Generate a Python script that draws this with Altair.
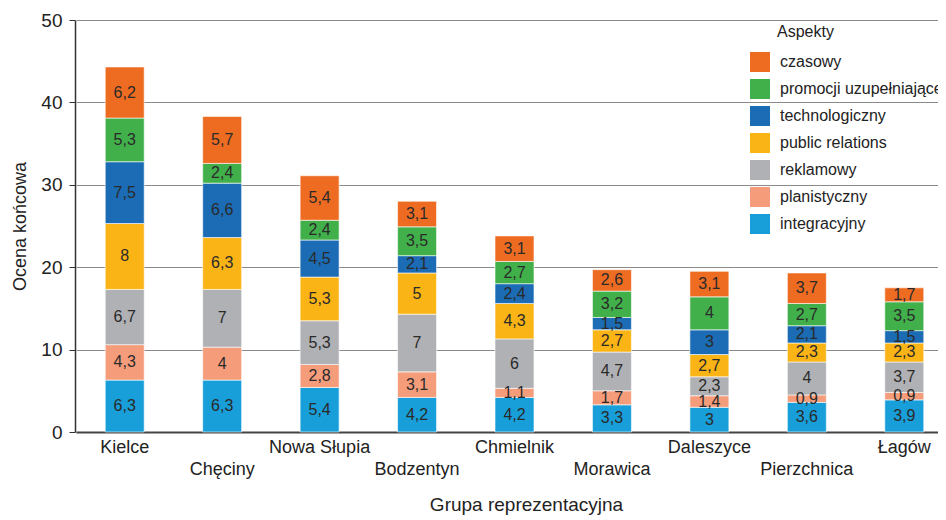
import altair as alt
import pandas as pd

gminy = ["Kielce", "Chęciny", "Nowa Słupia", "Bodzentyn", "Chmielnik",
         "Morawica", "Daleszyce", "Pierzchnica", "Łagów"]

# series from bottom of stack to top
integracyjny = [6.3, 6.3, 5.4, 4.2, 4.2, 3.3, 3.0, 3.6, 3.9]
planistyczny = [4.3, 4.0, 2.8, 3.1, 1.1, 1.7, 1.4, 0.9, 0.9]
reklamowy = [6.7, 7.0, 5.3, 7.0, 6.0, 4.7, 2.3, 4.0, 3.7]
public_relations = [8.0, 6.3, 5.3, 5.0, 4.3, 2.7, 2.7, 2.3, 2.3]
technologiczny = [7.5, 6.6, 4.5, 2.1, 2.4, 1.5, 3.0, 2.1, 1.5]
promocji = [5.3, 2.4, 2.4, 3.5, 2.7, 3.2, 4.0, 2.7, 3.5]
czasowy = [6.2, 5.7, 5.4, 3.1, 3.1, 2.6, 3.1, 3.7, 1.7]

series_names = ["integracyjny", "planistyczny", "reklamowy", "public relations",
                "technologiczny", "promocji uzupełniające", "czasowy"]
series_values = [integracyjny, planistyczny, reklamowy, public_relations,
                 technologiczny, promocji, czasowy]
series_colors = ["#189ED9", "#F59C7B", "#B0B1B4", "#FBB416",
                 "#1B6CB5", "#41B04A", "#EE6C22"]

legend_order = list(reversed(series_names))
legend_colors = list(reversed(series_colors))

rows = []
for i, g in enumerate(gminy):
    for k, (name, vals) in enumerate(zip(series_names, series_values)):
        v = vals[i]
        rows.append({"gmina": g, "aspekt": name, "value": v, "ord": k,
                     "label": f"{v:g}".replace(".", ",")})
df = pd.DataFrame(rows)

FONT = "Liberation Sans"
staggered = ["Chęciny", "Bodzentyn", "Morawica", "Pierzchnica"]
label_expr = ("indexof(" + str(staggered) +
              ", datum.value) >= 0 ? ['', datum.label] : datum.label")

x_enc = alt.X(
    "gmina:N", sort=gminy,
    scale=alt.Scale(range=[1, 878], paddingInner=0.6, paddingOuter=0.3),
    axis=alt.Axis(title="Grupa reprezentacyjna", labelAngle=0, ticks=False,
                  labelExpr=label_expr, labelLineHeight=22, labelBaseline="top",
                  labelPadding=6, labelFontSize=18, labelColor="#222",
                  titleFontSize=19, titleFontWeight="normal", titleColor="#222",
                  titlePadding=17, titleX=451,
                  domainColor="#444", domainWidth=2, grid=False),
)

base = alt.Chart(df).transform_stack(
    stack="value", groupby=["gmina"], as_=["v0", "v1"],
    sort=[alt.SortField("ord", order="ascending")],
).transform_calculate(mid="(datum.v0 + datum.v1) / 2")

bars = base.mark_bar(stroke="white", strokeWidth=0.6).encode(
    x=x_enc,
    y=alt.Y("v0:Q", scale=alt.Scale(domain=[0, 50]),
            axis=alt.Axis(title="Ocena końcowa", values=[0, 10, 20, 30, 40, 50],
                          tickSize=6, tickColor="#333", domainColor="#333",
                          domainWidth=1.5, labelFontSize=19, labelColor="#222",
                          labelPadding=7, titleFontSize=18, titleFontWeight="normal",
                          titleColor="#222", titlePadding=11,
                          gridColor="#8a8a8a", gridWidth=1)),
    y2="v1:Q",
    color=alt.Color("aspekt:N",
                    scale=alt.Scale(domain=legend_order, range=legend_colors),
                    legend=alt.Legend(title=None, orient="none", legendX=675, legendY=32,
                                      symbolType="square", symbolSize=400,
                                      symbolStrokeWidth=0, symbolOpacity=1,
                                      labelFontSize=16, labelOffset=10, labelColor="#222",
                                      labelLimit=400, rowPadding=7)),
    order=alt.Order("ord:Q"),
)

texts = base.mark_text(fontSize=16, color="#2a2a2a", baseline="middle", font=FONT).encode(
    x=alt.X("gmina:N", sort=gminy),
    y=alt.Y("mid:Q"),
    text="label:N",
)

legend_title = alt.Chart(pd.DataFrame({"t": ["Aspekty"]})).mark_text(
    align="left", baseline="middle", fontSize=16, color="#222", font=FONT
).encode(text="t:N", x=alt.value(702), y=alt.value(12))

chart = alt.layer(bars, texts, legend_title).properties(
    width=863, height=412,
    autosize=alt.AutoSizeParams(type="none"),
    padding={"left": 67, "top": 12, "right": 0, "bottom": 88},
).configure(font=FONT).configure_view(stroke=None)

chart.save("out.html", embed_options={"renderer": "svg", "actions": False})
